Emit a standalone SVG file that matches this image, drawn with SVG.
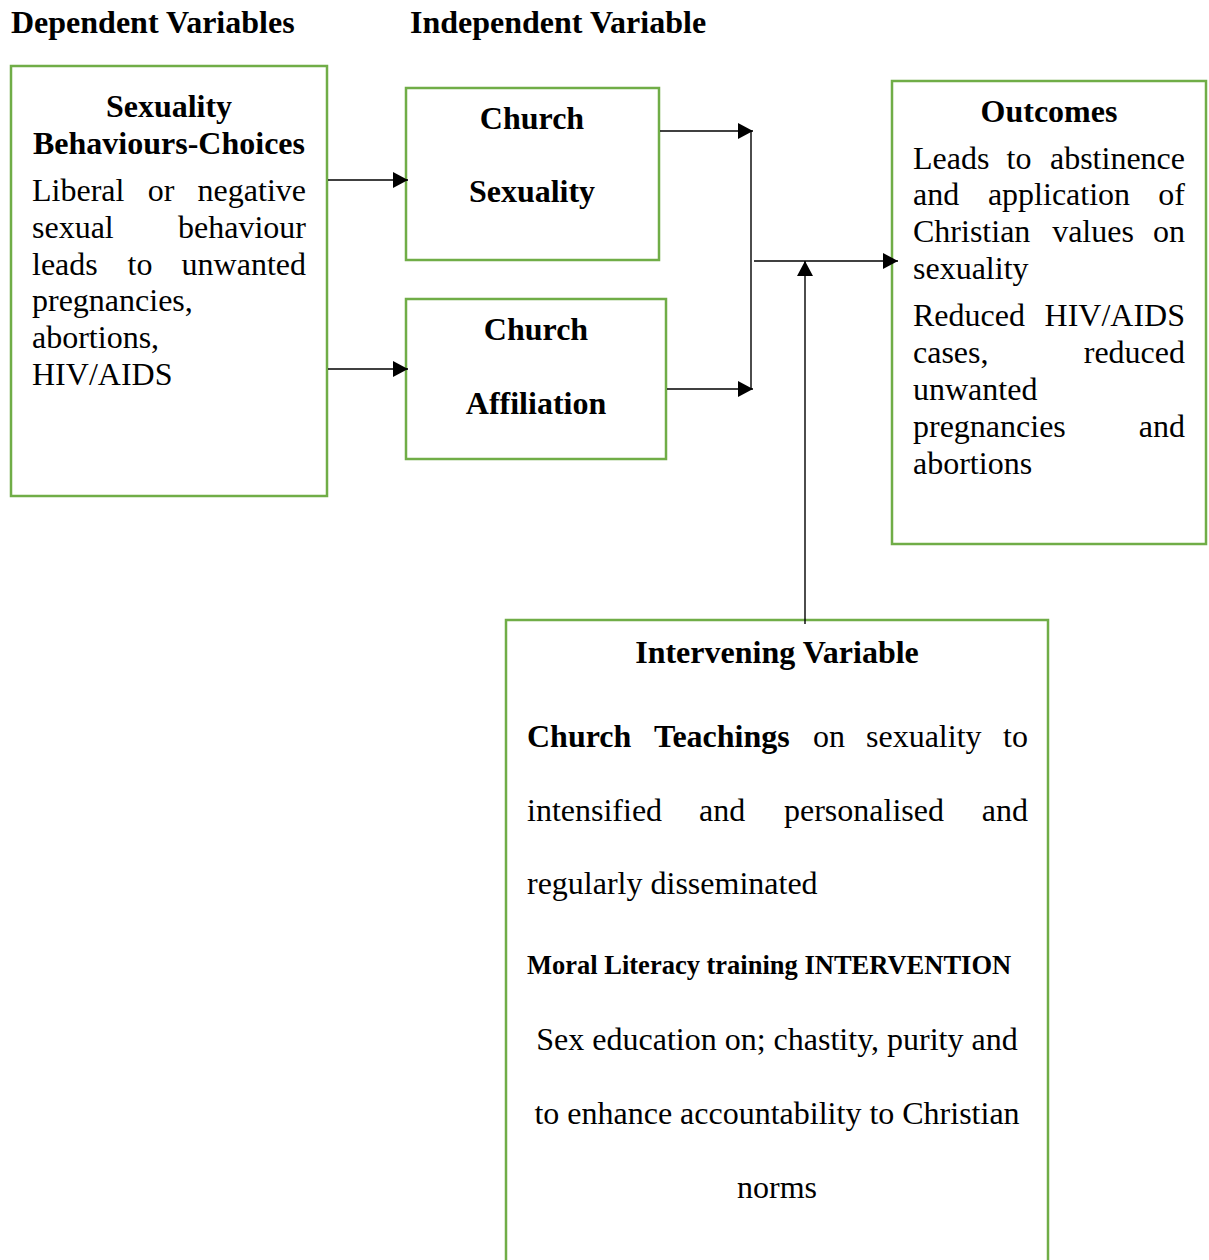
<svg xmlns="http://www.w3.org/2000/svg" width="1209" height="1260" viewBox="0 0 1209 1260">
<style>
.box{fill:#fff;stroke:#70AD47;stroke-width:2.5}
text{font-family:"Liberation Serif","Times New Roman",serif;font-size:32px;fill:#000}
.b{font-weight:bold}
.c{text-anchor:middle}
.e{text-anchor:end}
.sm{font-size:26.5px}
.conn line{stroke:#000;stroke-width:1.4;fill:none}
</style>
<defs>
<marker id="ah" markerUnits="userSpaceOnUse" markerWidth="16" markerHeight="16" refX="15" refY="8" orient="auto">
<path d="M0,0 L15,8 L0,16 Z" fill="#000"/>
</marker>
</defs>
<rect width="1209" height="1260" fill="#fff"/>
<text class="b" x="11" y="33">Dependent Variables</text>
<text class="b" x="410" y="33">Independent Variable</text>

<g id="dependent">
<rect class="box" x="11" y="66" width="316" height="430"/>
<text class="b c" x="169" y="117">Sexuality</text>
<text class="b c" x="169" y="154">Behaviours-Choices</text>
<text x="32" y="201">Liberal</text><text class="c" x="161" y="201">or</text><text class="e" x="306" y="201">negative</text>
<text x="32" y="238">sexual</text><text class="e" x="306" y="238">behaviour</text>
<text x="32" y="275">leads</text><text class="c" x="140" y="275">to</text><text class="e" x="306" y="275">unwanted</text>
<text x="32" y="311">pregnancies,</text>
<text x="32" y="348">abortions,</text>
<text x="32" y="385">HIV/AIDS</text>
</g>

<g id="church-sexuality">
<rect class="box" x="406" y="88" width="253" height="172"/>
<text class="b c" x="532" y="129">Church</text>
<text class="b c" x="532" y="202">Sexuality</text>
</g>

<g id="church-affiliation">
<rect class="box" x="406" y="299" width="260" height="160"/>
<text class="b c" x="536" y="340">Church</text>
<text class="b c" x="536" y="414">Affiliation</text>
</g>

<g id="outcomes">
<rect class="box" x="892" y="81" width="314" height="463"/>
<text class="b c" x="1049" y="122">Outcomes</text>
<text x="913" y="169">Leads</text><text class="c" x="1019" y="169">to</text><text class="e" x="1185" y="169">abstinence</text>
<text x="913" y="205">and</text><text class="c" x="1059" y="205">application</text><text class="e" x="1185" y="205">of</text>
<text x="913" y="242">Christian</text><text class="c" x="1093" y="242">values</text><text class="e" x="1185" y="242">on</text>
<text x="913" y="279">sexuality</text>
<text x="913" y="326">Reduced</text><text class="e" x="1185" y="326">HIV/AIDS</text>
<text x="913" y="363">cases,</text><text class="e" x="1185" y="363">reduced</text>
<text x="913" y="400">unwanted</text>
<text x="913" y="437">pregnancies</text><text class="e" x="1185" y="437">and</text>
<text x="913" y="474">abortions</text>
</g>

<g id="intervening">
<rect class="box" x="506" y="620" width="542" height="660"/>
<text class="b c" x="777" y="663">Intervening Variable</text>
<text class="b" x="527" y="747">Church</text><text class="b" x="654" y="747">Teachings</text><text x="813" y="747">on</text><text x="866" y="747">sexuality</text><text class="e" x="1028" y="747">to</text>
<text x="527" y="821">intensified</text><text x="699" y="821">and</text><text x="784" y="821">personalised</text><text class="e" x="1028" y="821">and</text>
<text x="527" y="894">regularly disseminated</text>
<text class="b sm" x="527" y="974">Moral Literacy training INTERVENTION</text>
<text class="c" x="777" y="1050">Sex education on; chastity, purity and</text>
<text class="c" x="777" y="1124">to enhance accountability to Christian</text>
<text class="c" x="777" y="1198">norms</text>
</g>

<g id="connectors" class="conn">
<line x1="328" y1="180" x2="408" y2="180" marker-end="url(#ah)"/>
<line x1="328" y1="369" x2="408" y2="369" marker-end="url(#ah)"/>
<line x1="660" y1="131" x2="753" y2="131" marker-end="url(#ah)"/>
<line x1="667" y1="389" x2="753" y2="389" marker-end="url(#ah)"/>
<line x1="751" y1="131" x2="751" y2="389"/>
<line x1="754" y1="261" x2="898" y2="261" marker-end="url(#ah)"/>
<line x1="805" y1="624" x2="805" y2="261" marker-end="url(#ah)"/>
</g>
</svg>
